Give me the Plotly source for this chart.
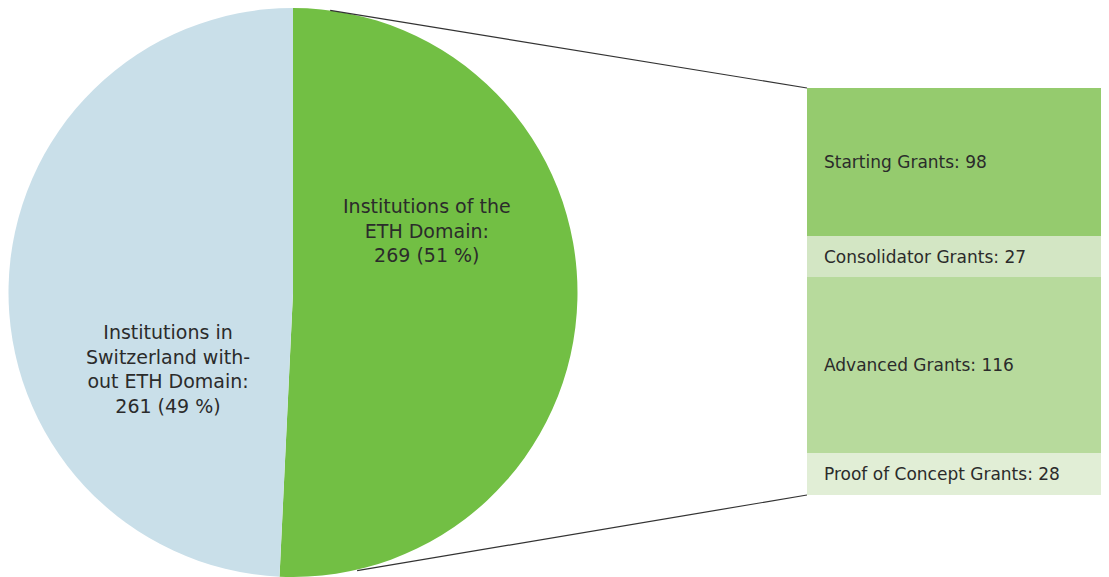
import math
import plotly.graph_objects as go

# ---- data ----
pie_labels = ["Institutions of the ETH Domain", "Institutions in Switzerland without ETH Domain"]
pie_values = [269, 261]
pie_texts = ["Institutions of the<br>ETH Domain:<br>269 (51 %)",
             "Institutions in<br>Switzerland with-<br>out ETH Domain:<br>261 (49 %)"]
pie_colors = ["#72bf44", "#c9dfe9"]

grant_labels = ["Starting Grants", "Consolidator Grants", "Advanced Grants", "Proof of Concept Grants"]
grant_values = [98, 27, 116, 28]
grant_colors = ["#95cb6e", "#d3e6c4", "#b7da9c", "#e1eed6"]

# page places the figure 8px from the top-left corner of the window
OFF = 8
W, H = 1109 - OFF, 577 - OFF
FONT = "DejaVu Sans"
TXT = "#2b2b2b"


def px_x(x):  # screen px -> paper x
    return (x - OFF) / W


def px_y(y):  # screen px -> paper y
    return 1 - (y - OFF) / H


fig = go.Figure()

# pie geometry (screen px): centre (293, 293), radius 285
pcx, pcy, pr = 293, 293, 285
pie_dom_x = [px_x(pcx - pr), px_x(pcx + pr)]
pie_dom_y = [px_y(pcy + pr), px_y(pcy - pr)]
fig.add_trace(go.Pie(
    labels=pie_labels, values=pie_values, sort=False, direction="clockwise",
    rotation=0, marker=dict(colors=pie_colors, line=dict(width=0)),
    textinfo="none", hoverinfo="label+value+percent", showlegend=False,
    domain=dict(x=pie_dom_x, y=[max(0, pie_dom_y[0]), min(1, pie_dom_y[1])]),
))

# stacked bar
for lab, val, col in zip(grant_labels, grant_values, grant_colors):
    fig.add_trace(go.Bar(
        x=[0], y=[val], name=lab, marker=dict(color=col, line=dict(width=0)),
        width=1, showlegend=False, hovertemplate=lab + ": %{y}<extra></extra>",
    ))

total = sum(grant_values)
bar_top_px, bar_bot_px, bar_left_px = 88, 495, 807
fig.update_layout(
    barmode="stack",
    width=W, height=H, margin=dict(l=0, r=0, t=0, b=0),
    paper_bgcolor="white", plot_bgcolor="white",
    xaxis=dict(domain=[px_x(bar_left_px), 1], range=[-0.5, 0.5], visible=False, fixedrange=True),
    yaxis=dict(domain=[px_y(bar_bot_px), px_y(bar_top_px)], range=[total, 0],
               visible=False, fixedrange=True),
    font=dict(family=FONT, color=TXT),
)

# bar labels
cum = 0
for lab, val in zip(grant_labels, grant_values):
    mid = cum + val / 2
    cum += val
    fig.add_annotation(x=px_x(822), xref="paper", y=mid, yref="y", text=f"{lab}: {val}",
                       showarrow=False, xanchor="left", yanchor="middle",
                       font=dict(size=17, family=FONT, color=TXT))

# pie labels
label_pos = [(427, 230), (168, 369)]
for t, (px, py) in zip(pie_texts, label_pos):
    fig.add_annotation(x=px_x(px), y=px_y(py), xref="paper", yref="paper", text=t,
                       showarrow=False, xanchor="center", yanchor="middle",
                       font=dict(size=19, family=FONT, color=TXT))

# connector lines from pie edge to bar corners
for ang_deg, (bx, by) in [(7.5, (bar_left_px, bar_top_px)), (167.0, (bar_left_px, bar_bot_px))]:
    a = math.radians(ang_deg)
    sx = pcx + pr * math.sin(a)
    sy = pcy - pr * math.cos(a)
    fig.add_shape(type="line", xref="paper", yref="paper",
                  x0=px_x(sx), y0=px_y(sy), x1=px_x(bx), y1=px_y(by),
                  line=dict(color="#333333", width=1.2))

fig.write_html("out.html")
